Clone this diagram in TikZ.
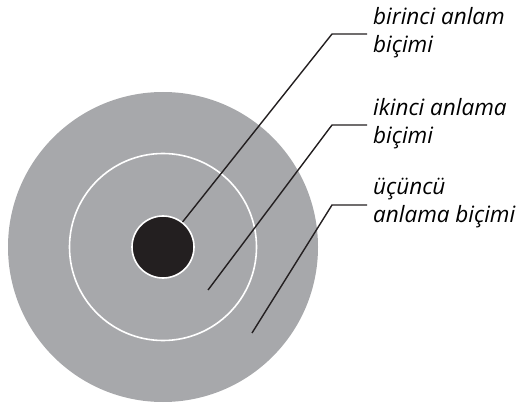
\documentclass[tikz,border=0pt]{standalone}
\usepackage{fontspec}
\setmainfont{Open Sans}
\usepackage{tikz}
\usetikzlibrary{positioning}
\definecolor{ringgray}{HTML}{A7A8AB}
\definecolor{coreblack}{HTML}{231F20}

\begin{document}
\begin{tikzpicture}[x=1pt, y=-1pt,
  every node/.style={font=\fontsize{22.5}{28}\selectfont\itshape},
  ring/.style={circle, inner sep=0pt},
  lbl/.style={align=left, anchor=west, inner sep=0pt},
  leader/.style={draw=coreblack, line width=1.4pt}]
  \useasboundingbox (0,0) rectangle (519,403);

  % rings
  \node[ring, fill=ringgray, minimum size=310pt] (outer) at (163,247) {};
  \node[ring, draw=white, line width=1.6pt, minimum size=187pt] (middle) at (163,247) {};
  \node[ring, fill=coreblack, draw=white, line width=1.6pt, minimum size=62pt] (core) at (163,247) {};

  % labels
  \node[lbl] (first) at (373,33) {birinci anlam\\biçimi};
  \node[lbl] (second) at (373,124) {ikinci anlama\\biçimi};
  \node[lbl] (third) at (373,203) {üçüncü\\anlama biçimi};

  % leader lines
  \coordinate (k1) at (332,34);
  \coordinate (k2) at (332,125);
  \coordinate (k3) at (332,205);
  \coordinate (p2) at (208,290);
  \coordinate (p3) at (252,333);
  \draw[leader] (core.52) -- (k1) -- ([xshift=-6pt]first.west |- k1);
  \draw[leader] (p2) -- (k2) -- ([xshift=-6pt]second.west |- k2);
  \draw[leader] (p3) -- (k3) -- ([xshift=-6pt]third.west |- k3);
\end{tikzpicture}
\end{document}
